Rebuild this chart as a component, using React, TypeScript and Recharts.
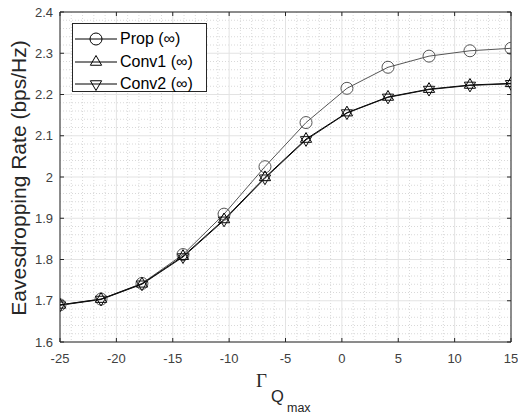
import React from "react";
import {
  LineChart,
  Line,
  XAxis,
  YAxis,
  CartesianGrid,
  ReferenceArea,
} from "recharts";

const gammaQmax = [-25, -21.36, -17.73, -14.09, -10.45, -6.82, -3.18, 0.45, 4.09, 7.73, 11.36, 15];
const propRate = [1.69, 1.704, 1.742, 1.812, 1.91, 2.025, 2.132, 2.215, 2.266, 2.293, 2.306, 2.312];
const conv1Rate = [1.69, 1.704, 1.741, 1.808, 1.897, 1.999, 2.092, 2.156, 2.194, 2.213, 2.223, 2.227];
const conv2Rate = [1.689, 1.703, 1.74, 1.806, 1.895, 1.997, 2.09, 2.155, 2.193, 2.212, 2.222, 2.226];

const xTicks = [-25, -20, -15, -10, -5, 0, 5, 10, 15];
const yTicks = [1.6, 1.7, 1.8, 1.9, 2.0, 2.1, 2.2, 2.3, 2.4];
const xMinor = [-24, -23, -22, -21, -19, -18, -17, -16, -14, -13, -12, -11, -9, -8, -7, -6, -4, -3, -2, -1, 1, 2, 3, 4, 6, 7, 8, 9, 11, 12, 13, 14];
const yMinor = [1.62, 1.64, 1.66, 1.68, 1.72, 1.74, 1.76, 1.78, 1.82, 1.84, 1.86, 1.88, 1.92, 1.94, 1.96, 1.98, 2.02, 2.04, 2.06, 2.08, 2.12, 2.14, 2.16, 2.18, 2.22, 2.24, 2.26, 2.28, 2.32, 2.34, 2.36, 2.38];

const seriesNames = ["Prop (\u221E)", "Conv1 (\u221E)", "Conv2 (\u221E)"];

const data = gammaQmax.map((x, i) => ({
  x,
  prop: propRate[i],
  conv1: conv1Rate[i],
  conv2: conv2Rate[i],
}));

const W = 518;
const H = 415;
const PLOT_LEFT = 60;
const PLOT_RIGHT = 511;
const PLOT_TOP = 12;
const PLOT_BOTTOM = 342;
const TICK_LEN = 4;
const AXIS_COLOR = "#262626";
const FONT = "'Liberation Sans', Arial, Helvetica, sans-serif";

const CircleDot = (props: any) => {
  const { cx, cy, stroke } = props;
  if (cx == null || cy == null) return null;
  return <circle cx={cx} cy={cy} r={6} fill="none" stroke={stroke} strokeWidth={1} />;
};

const TriUp = (props: any) => {
  const { cx, cy, stroke } = props;
  if (cx == null || cy == null) return null;
  const r = 6.5;
  const pts = `${cx},${cy - r} ${cx - r * 0.866},${cy + r * 0.5} ${cx + r * 0.866},${cy + r * 0.5}`;
  return <polygon points={pts} fill="none" stroke={stroke} strokeWidth={1} />;
};

const TriDown = (props: any) => {
  const { cx, cy, stroke } = props;
  if (cx == null || cy == null) return null;
  const r = 6.5;
  const pts = `${cx},${cy + r} ${cx - r * 0.866},${cy - r * 0.5} ${cx + r * 0.866},${cy - r * 0.5}`;
  return <polygon points={pts} fill="none" stroke={stroke} strokeWidth={1} />;
};

const XTick = (props: any) => {
  const { x, payload } = props;
  return (
    <g>
      <line x1={x} y1={PLOT_BOTTOM} x2={x} y2={PLOT_BOTTOM - TICK_LEN} stroke={AXIS_COLOR} />
      <line x1={x} y1={PLOT_TOP} x2={x} y2={PLOT_TOP + TICK_LEN} stroke={AXIS_COLOR} />
      <text x={x} y={PLOT_BOTTOM + 21} textAnchor="middle" fontSize={13} fill="#404040" fontFamily={FONT}>
        {payload.value}
      </text>
    </g>
  );
};

const YTick = (props: any) => {
  const { y, payload } = props;
  const label = String(Number(Number(payload.value).toFixed(1)));
  return (
    <g>
      <line x1={PLOT_LEFT} y1={y} x2={PLOT_LEFT + TICK_LEN} y2={y} stroke={AXIS_COLOR} />
      <line x1={PLOT_RIGHT} y1={y} x2={PLOT_RIGHT - TICK_LEN} y2={y} stroke={AXIS_COLOR} />
      <text x={PLOT_LEFT - 7} y={y + 4.5} textAnchor="end" fontSize={13} fill="#404040" fontFamily={FONT}>
        {label}
      </text>
    </g>
  );
};

const LegendBox = () => {
  const markers = [
    (cx: number, cy: number) => <CircleDot cx={cx} cy={cy} stroke="#000" />,
    (cx: number, cy: number) => <TriUp cx={cx} cy={cy} stroke="#000" />,
    (cx: number, cy: number) => <TriDown cx={cx} cy={cy} stroke="#000" />,
  ];
  return (
    <div
      style={{
        position: "absolute",
        left: 72,
        top: 23,
        width: 135,
        height: 69,
        border: `1px solid ${AXIS_COLOR}`,
        background: "#fff",
        boxSizing: "border-box",
      }}
    >
      {seriesNames.map((n, i) => (
        <div
          key={n}
          style={{ position: "absolute", left: 0, top: 4 + i * 22.5, height: 22, display: "flex", alignItems: "center" }}
        >
          <svg width={46} height={22} style={{ display: "block" }}>
            <line x1={2} y1={11} x2={44} y2={11} stroke="#000" strokeWidth={1} />
            {markers[i](23, 11)}
          </svg>
          <span style={{ fontFamily: FONT, fontSize: 16, color: "#000", whiteSpace: "nowrap", marginLeft: 1, lineHeight: "22px" }}>{n}</span>
        </div>
      ))}
    </div>
  );
};

export default function App() {
  return (
    <div style={{ position: "fixed", left: 0, top: 0, width: W, height: H, background: "#fff" }}>
      <LineChart
        width={W}
        height={H}
        data={data}
        margin={{ top: PLOT_TOP, right: W - PLOT_RIGHT, bottom: 0, left: 0 }}
      >
        <CartesianGrid
          stroke="#d9d9d9"
          strokeDasharray="1 2"
          verticalValues={xMinor}
          horizontalValues={yMinor}
        />
        <CartesianGrid stroke="#e3e3e3" strokeWidth={1} verticalValues={xTicks} horizontalValues={yTicks} />
        <XAxis
          dataKey="x"
          type="number"
          domain={[-25, 15]}
          ticks={xTicks}
          allowDataOverflow
          height={H - PLOT_BOTTOM}
          axisLine={false}
          tickLine={false}
          tick={<XTick />}
          interval={0}
        />
        <YAxis
          type="number"
          domain={[1.6, 2.4]}
          ticks={yTicks}
          allowDataOverflow
          width={PLOT_LEFT}
          axisLine={false}
          tickLine={false}
          tick={<YTick />}
          interval={0}
        />
        <ReferenceArea
          x1={-25}
          x2={15}
          y1={1.6}
          y2={2.4}
          fill="none"
          fillOpacity={0}
          stroke={AXIS_COLOR}
          strokeWidth={1}
          ifOverflow="visible"
        />
        <Line
          dataKey="prop"
          name={seriesNames[0]}
          stroke="#555"
          strokeWidth={1}
          dot={<CircleDot />}
          isAnimationActive={false}
        />
        <Line
          dataKey="conv1"
          name={seriesNames[1]}
          stroke="#000"
          strokeWidth={1}
          dot={<TriUp />}
          isAnimationActive={false}
        />
        <Line
          dataKey="conv2"
          name={seriesNames[2]}
          stroke="#111"
          strokeWidth={1}
          dot={<TriDown />}
          isAnimationActive={false}
        />
        <text
          x={18}
          y={178}
          transform={`rotate(-90 18 178)`}
          textAnchor="middle"
          dominantBaseline="central"
          fontSize={21}
          fill="#262626"
          fontFamily={FONT}
        >
          Eavesdropping Rate (bps/Hz)
        </text>
        <text x={256} y={387} fontSize={19} fill="#262626" fontFamily="'Liberation Serif', 'Times New Roman', serif">
          Γ
        </text>
        <text x={271} y={402} fontSize={16.5} fill="#262626" fontFamily={FONT}>
          Q
        </text>
        <text x={287} y={412} fontSize={12.5} fill="#262626" fontFamily={FONT}>
          max
        </text>
      </LineChart>
      <LegendBox />
    </div>
  );
}
